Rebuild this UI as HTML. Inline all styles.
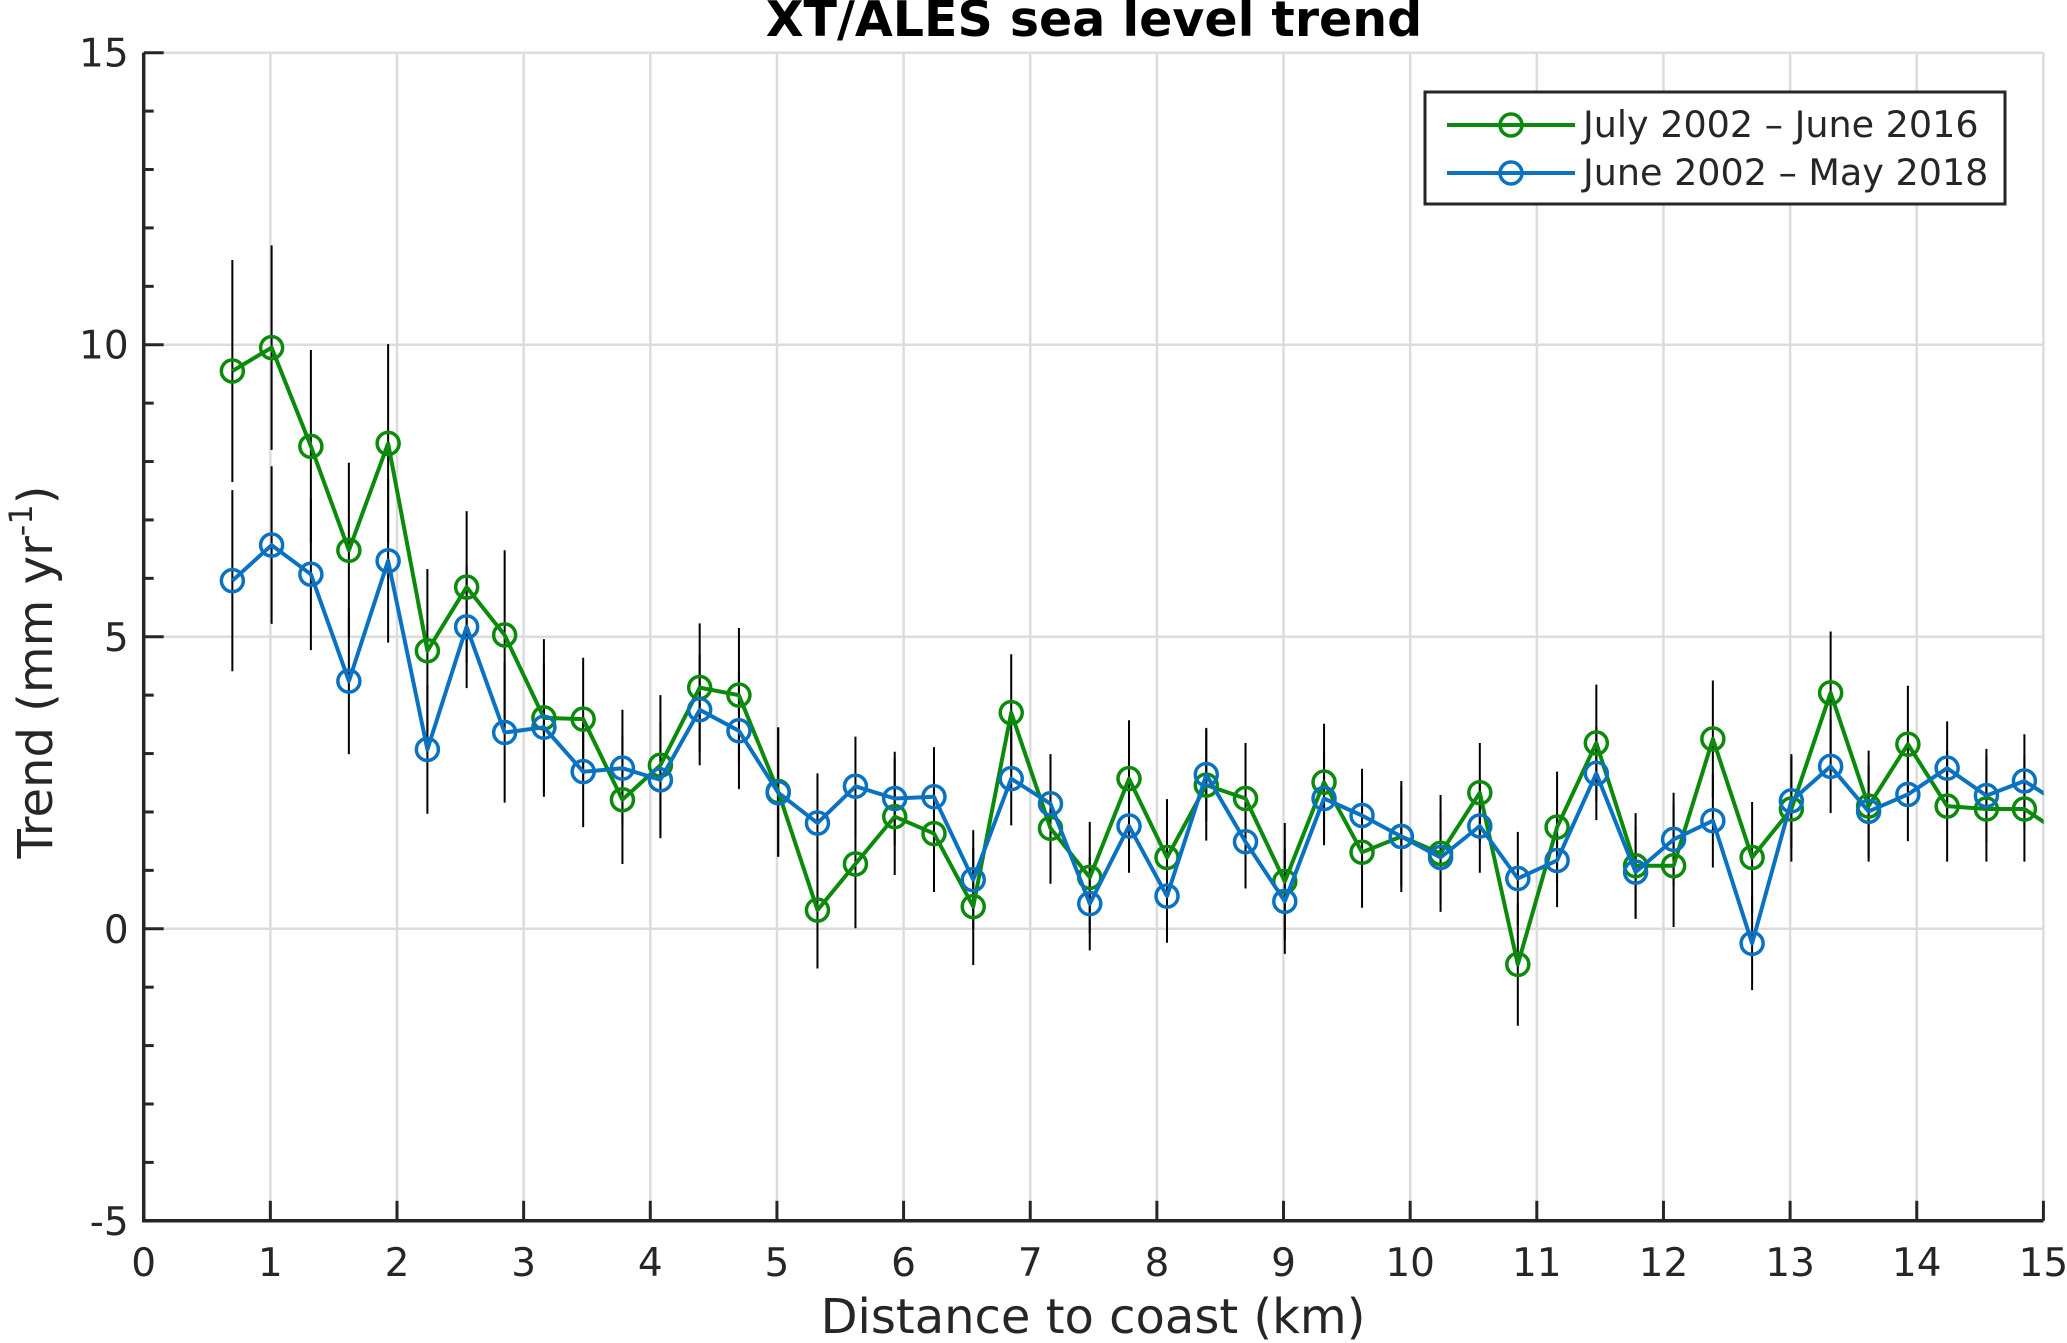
<!DOCTYPE html>
<html><head><meta charset="utf-8"><style>
html,body{margin:0;padding:0;background:#fff;}
svg{display:block;font-family:"DejaVu Sans","Liberation Sans",sans-serif;}
</style></head><body>
<svg id="chart" width="2067" height="1343" viewBox="0 0 2067 1343" xmlns="http://www.w3.org/2000/svg">
<defs><clipPath id="plotclip"><rect x="143.7" y="40" width="1900" height="1200"/></clipPath></defs>
<g id="grid"></g>
<g id="axes"></g>
<g id="series" clip-path="url(#plotclip)"></g>
<text x="1094" y="36" font-size="49" font-weight="bold" text-anchor="middle">XT/ALES  sea level trend</text>
<text x="1093" y="1333" font-size="48" text-anchor="middle" fill="#262626">Distance to coast (km)</text>
<text transform="translate(52,672) rotate(-90)" font-size="48" text-anchor="middle" fill="#262626">Trend (mm yr<tspan dy="-20" font-size="32">-1</tspan><tspan dy="20">)</tspan></text>
<g>
<rect x="1425" y="92" width="580" height="112" fill="#fff" stroke="#262626" stroke-width="3"/>
<line x1="1447" y1="125" x2="1575" y2="125" stroke="#0b8a0b" stroke-width="4"/>
<circle cx="1511" cy="125" r="11" fill="none" stroke="#0b8a0b" stroke-width="3.5"/>
<text x="1583" y="137" font-size="36.5" fill="#262626">July 2002 – June 2016</text>
<line x1="1447" y1="173" x2="1575" y2="173" stroke="#0a72c0" stroke-width="4"/>
<circle cx="1511" cy="173" r="11" fill="none" stroke="#0a72c0" stroke-width="3.5"/>
<text x="1583" y="185" font-size="36.5" fill="#262626">June 2002 – May 2018</text>
</g>
</svg>
<script>
const distances = [0.70,1.01,1.32,1.62,1.93,2.24,2.55,2.85,3.16,3.47,3.78,4.08,4.39,4.70,5.01,5.32,5.62,5.93,6.24,6.55,6.85,7.16,7.47,7.78,8.08,8.39,8.70,9.01,9.32,9.62,9.93,10.24,10.55,10.85,11.16,11.47,11.78,12.08,12.39,12.70,13.01,13.32,13.62,13.93,14.24,14.55,14.85,15.16];
const green2016 = [9.55,9.95,8.26,6.48,8.31,4.76,5.85,5.03,3.61,3.59,2.21,2.80,4.13,4.00,2.35,0.32,1.11,1.92,1.63,0.38,3.70,1.72,0.88,2.57,1.22,2.46,2.23,0.81,2.51,1.31,1.58,1.29,2.33,-0.61,1.74,3.18,1.08,1.08,3.25,1.22,2.05,4.04,2.10,3.16,2.10,2.05,2.05,1.60];
const greenErr = [1.9,1.75,1.65,1.5,1.7,1.4,1.3,1.45,1.35,1.05,1.1,1.2,1.1,1.15,1.1,1.0,1.1,1.0,1.0,1.0,1.0,0.95,0.95,1.0,1.0,0.95,0.95,1.0,1.0,0.95,0.95,1.0,0.85,1.05,0.95,1.0,0.9,1.05,1.0,0.95,0.9,1.05,0.95,1.0,0.95,0.9,0.9,0.9];
const blue2018 = [5.96,6.57,6.07,4.24,6.30,3.07,5.17,3.36,3.45,2.69,2.75,2.55,3.75,3.39,2.33,1.81,2.44,2.23,2.26,0.84,2.57,2.14,0.43,1.76,0.56,2.64,1.49,0.47,2.23,1.94,1.58,1.22,1.76,0.86,1.17,2.66,0.97,1.53,1.85,-0.25,2.19,2.78,2.01,2.30,2.75,2.28,2.53,2.10];
const blueErr = [1.55,1.35,1.3,1.25,1.4,1.1,1.05,1.2,1.1,0.95,1.0,1.0,0.95,1.0,1.1,0.85,0.85,0.8,0.85,0.85,0.8,0.85,0.8,0.8,0.8,0.8,0.8,0.9,0.8,0.8,0.85,0.8,0.8,0.8,0.8,0.8,0.8,0.8,0.8,0.8,0.8,0.8,0.8,0.8,0.8,0.8,0.8,0.8];
const xTicks = [0,1,2,3,4,5,6,7,8,9,10,11,12,13,14,15];
const yTicks = [-5,0,5,10,15];

const NS='http://www.w3.org/2000/svg';
const X0=143.7,X1=2043.4,Y15=52.7,Ym5=1220.8;
function sx(v){return X0+(v-0)/15*(X1-X0);}
function sy(v){return Ym5-(v+5)/20*(Ym5-Y15);}
function mk(tag,attrs,parent){const e=document.createElementNS(NS,tag);for(const k in attrs)e.setAttribute(k,attrs[k]);parent.appendChild(e);return e;}
const grid=document.getElementById('grid'),axes=document.getElementById('axes'),series=document.getElementById('series');

xTicks.forEach(t=>{
  const g=mk('line',{x1:sx(t),x2:sx(t),y1:Y15,y2:Ym5,stroke:'#dcdcdc','stroke-width':2.5},grid);
  
  
  const tk=mk('line',{x1:sx(t),x2:sx(t),y1:Ym5,y2:Ym5-20,stroke:'#262626','stroke-width':3},axes);
  
  
  const lb=mk('text',{x:sx(t),y:Ym5+55,'font-size':39,'text-anchor':'middle',fill:'#262626'},axes);
  lb.textContent=t;
  
  
});
yTicks.forEach(t=>{
  const g=mk('line',{x1:X0,x2:X1,y1:sy(t),y2:sy(t),stroke:'#dcdcdc','stroke-width':2.5},grid);
  
  
  const lb=mk('text',{x:X0-15,y:sy(t)+14,'font-size':39,'text-anchor':'end',fill:'#262626'},axes);
  lb.textContent=t;
  
  
});
for(let v=-5;v<=15;v++){
  const major=(v%5===0);
  const tk=mk('line',{x1:X0,x2:X0+(major?20:10),y1:sy(v),y2:sy(v),stroke:'#262626','stroke-width':3},axes);
  
  
}
const ax=mk('path',{d:`M${X0},${Y15} L${X0},${Ym5} L${X1},${Ym5}`,fill:'none',stroke:'#262626','stroke-width':3.5},axes);



function drawErr(vals,errs,name){
  vals.forEach((v,i)=>{
    const e=mk('line',{x1:sx(distances[i]),x2:sx(distances[i]),y1:sy(v-errs[i]),y2:sy(v+errs[i]),stroke:'#000','stroke-width':2},series);
    
    
  });
}
function drawSeries(vals,color,name){
  const d=vals.map((v,i)=>(i?'L':'M')+sx(distances[i]).toFixed(1)+','+sy(v).toFixed(1)).join(' ');
  const p=mk('path',{d:d,fill:'none',stroke:color,'stroke-width':4,'stroke-linejoin':'round'},series);
  
  
  vals.forEach((v,i)=>{
    const c=mk('circle',{cx:sx(distances[i]),cy:sy(v),r:11,fill:'none',stroke:color,'stroke-width':3.5},series);
    
    
  });
}
drawErr(green2016,greenErr,'green-2016');
drawErr(blue2018,blueErr,'blue-2018');
drawSeries(green2016,'#0b8a0b','green-2016');
drawSeries(blue2018,'#0a72c0','blue-2018');
</script>
</body></html>
